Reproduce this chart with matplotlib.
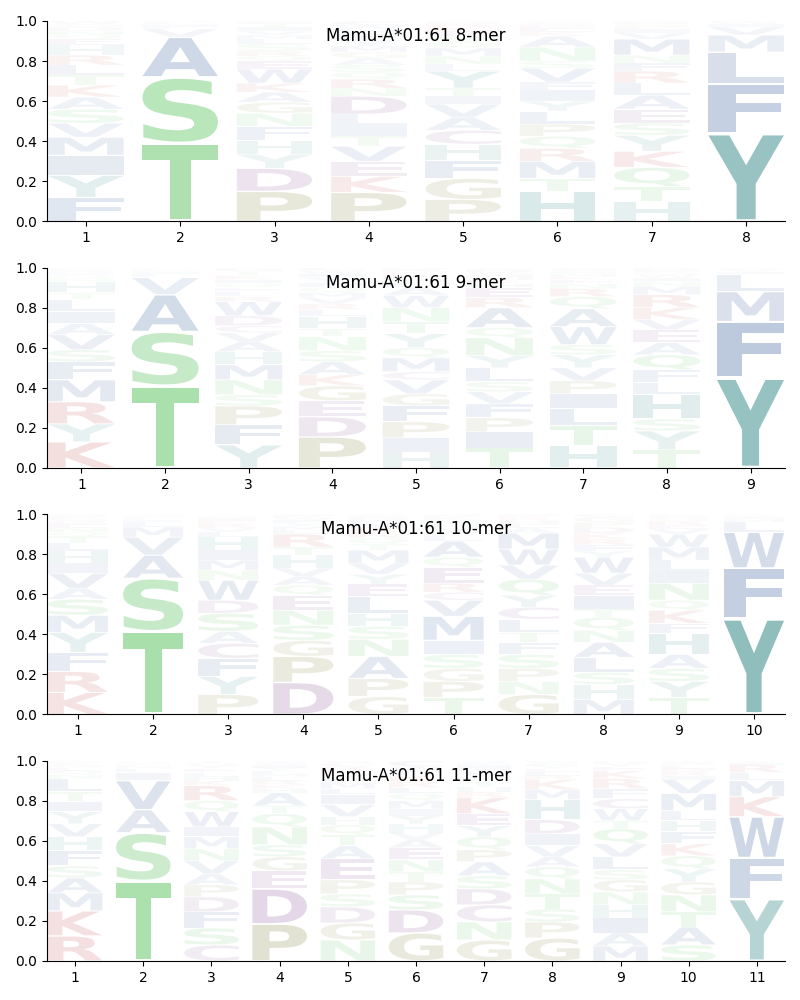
import matplotlib
matplotlib.use("Agg")
import matplotlib.pyplot as plt
from matplotlib.textpath import TextPath
from matplotlib.patches import PathPatch
from matplotlib.font_manager import FontProperties
from matplotlib.transforms import Affine2D

allele = "Mamu-A*01:61"

# letters of each column, listed bottom to top, with their frequencies
mer8_letters = [
    "FYIMVSAKTLRHEQNDGW",
    "TSAVLIMFCGN",
    "PDYHFNGAKWEQRSLMVITC",
    "PKEVTILDNRQSAGMYFHWC",
    "PGFHCAVITYLNMQSEKRDW",
    "HTMRQPLYIFVSNAKEDGCW",
    "HTQKYSEALRFNMVIPGDW",
    "YFLMVIWK",
]
mer8_heights = [
    [.12, .11, .10, .09, .07, .07, .06, .06, .05, .05, .05, .05, .03, .02, .02, .02, .015, .015],
    [.39, .33, .20, .04, .012, .008, .005, .004, .004, .004, .003],
    [.15, .115, .07, .07, .07, .065, .055, .05, .045, .07, .04, .025, .025, .035, .025, .02, .02, .02, .02, .01],
    [.145, .08, .075, .075, .05, .055, .055, .09, .04, .045, .035, .035, .035, .03, .03, .03, .03, .025, .02, .02],
    [.11, .105, .09, .08, .07, .065, .065, .04, .04, .085, .035, .04, .04, .03, .03, .025, .02, .015, .01, .005],
    [.15, .065, .085, .065, .06, .06, .065, .05, .055, .04, .07, .035, .07, .055, .02, .02, .015, .01, .005, .005],
    [.10, .075, .095, .08, .08, .06, .07, .07, .06, .06, .04, .04, .08, .03, .02, .015, .01, .01, .005],
    [.44, .245, .16, .085, .04, .015, .008, .007],
]

mer9_letters = [
    "KYRMFSVAILTHNQEDGPWC",
    "TSAVLIMFGCNQ",
    "YFPSNMHAVCDWRLEQIKTG",
    "PDEGKASNTHLRVMQFYIWC",
    "HIPFGVCMQYTNWALSEKRD",
    "TIPFVSLYNQAREHKMGDWC",
    "HTLIPVYSWAQRNEKMFGDC",
    "TYSHLFQAEVKRMNIWGPDC",
    "YFMLIVW",
]
mer9_heights = [
    [.13, .09, .11, .11, .09, .06, .075, .055, .06, .06, .035, .055, .015, .015, .01, .01, .008, .006, .004, .002],
    [.41, .27, .185, .085, .016, .01, .006, .005, .004, .004, .003, .002],
    [.115, .10, .095, .055, .075, .075, .065, .05, .045, .035, .05, .07, .025, .025, .02, .02, .02, .02, .02, .02],
    [.155, .10, .08, .075, .055, .065, .055, .07, .04, .06, .035, .03, .03, .025, .025, .025, .025, .02, .015, .015],
    [.08, .07, .08, .08, .06, .07, .04, .07, .05, .07, .06, .07, .06, .04, .025, .02, .02, .015, .01, .01],
    [.10, .08, .07, .07, .06, .05, .07, .06, .09, .05, .10, .05, .05, .02, .02, .02, .015, .015, .005, .005],
    [.11, .10, .085, .075, .065, .065, .065, .05, .09, .09, .06, .04, .025, .02, .015, .015, .01, .01, .005, .005],
    [.09, .095, .06, .12, .06, .065, .075, .06, .065, .05, .06, .065, .04, .025, .02, .015, .01, .01, .01, .005],
    [.45, .28, .15, .085, .015, .01, .01],
]

mer10_letters = [
    "KRFYMSAVIHLTQNEDGPWC",
    "TSAVMLIFGCNQ",
    "PYFCASDWNMIHLVRKEQGT",
    "DPGSNEQAVHTRLMYFWKIC",
    "GPANSHLEYVMTQRKIFDCW",
    "TPGSIMVCREQALFYHNKDW",
    "GNPSFTLCYQVWMAEHRKID",
    "MHSLANQTIEVWYFRKDPGC",
    "TYSAHFKQNILMWVERGDPC",
    "YFWLMIRKV",
]
mer10_heights = [
    [.11, .105, .095, .10, .085, .08, .055, .075, .05, .06, .04, .035, .02, .02, .02, .015, .015, .01, .005, .005],
    [.415, .265, .115, .09, .05, .025, .012, .008, .006, .005, .005, .004],
    [.10, .09, .09, .075, .06, .09, .065, .10, .05, .05, .05, .065, .025, .02, .02, .015, .015, .01, .005, .005],
    [.16, .13, .08, .075, .075, .075, .05, .045, .04, .065, .04, .065, .02, .02, .015, .015, .01, .01, .005, .005],
    [.09, .09, .11, .085, .065, .065, .085, .06, .05, .055, .065, .03, .03, .025, .025, .02, .02, .015, .01, .005],
    [.085, .08, .065, .07, .07, .12, .08, .04, .045, .08, .05, .08, .025, .02, .02, .02, .02, .015, .01, .005],
    [.10, .065, .065, .07, .06, .05, .065, .06, .06, .08, .07, .08, .08, .025, .02, .015, .015, .01, .005, .005],
    [.075, .075, .06, .075, .075, .06, .065, .04, .07, .05, .06, .08, .03, .03, .03, .03, .03, .025, .025, .015],
    [.085, .08, .065, .07, .105, .05, .065, .05, .085, .06, .055, .065, .065, .025, .02, .02, .015, .01, .005, .005],
    [.48, .25, .18, .05, .015, .01, .006, .005, .004],
]

mer11_letters = [
    "RKMASFHVYITLNQEDGPWC",
    "TSAVILMFGCNQ",
    "CSFDPAVNMIWQRKHLEYGT",
    "PDEGSNQTAHKRLMFYIWVC",
    "NGDSPEATQHVILMFYKRCW",
    "GDSPTNEAVHYIMQLRKFWC",
    "GNCDSAPQYEKRHTLVMIFW",
    "GPSTNQAVIDHMKRLEYFWC",
    "MAIHNGSLVQTWCFRKEYDP",
    "SATNGYQKFHLMVIRDEPWC",
    "YFWKMLRIV",
]
mer11_heights = [
    [.125, .125, .09, .075, .06, .075, .07, .065, .06, .05, .05, .065, .02, .02, .015, .01, .01, .008, .005, .002],
    [.40, .24, .115, .145, .04, .02, .012, .008, .006, .005, .005, .004],
    [.08, .085, .08, .075, .06, .055, .065, .06, .06, .05, .075, .055, .075, .025, .02, .02, .02, .015, .015, .01],
    [.185, .175, .09, .07, .06, .09, .065, .04, .065, .02, .02, .02, .02, .015, .015, .015, .015, .01, .005, .005],
    [.105, .085, .08, .065, .07, .105, .065, .055, .05, .04, .06, .05, .03, .03, .02, .02, .02, .02, .02, .01],
    [.14, .115, .075, .065, .05, .06, .06, .04, .035, .045, .04, .035, .04, .035, .03, .03, .03, .025, .02, .03],
    [.105, .09, .085, .08, .065, .07, .06, .065, .055, .06, .08, .03, .025, .025, .025, .025, .02, .015, .01, .01],
    [.115, .08, .065, .075, .075, .06, .05, .055, .06, .07, .10, .05, .05, .02, .02, .015, .015, .01, .01, .005],
    [.075, .065, .075, .065, .065, .06, .05, .065, .065, .075, .04, .06, .05, .05, .05, .04, .02, .015, .01, .005],
    [.08, .09, .075, .085, .065, .065, .065, .06, .06, .055, .05, .085, .07, .02, .02, .015, .015, .01, .01, .005],
    [.31, .205, .205, .10, .08, .04, .04, .01, .01],
]

panels = [
    ("8-mer", mer8_letters, mer8_heights),
    ("9-mer", mer9_letters, mer9_heights),
    ("10-mer", mer10_letters, mer10_heights),
    ("11-mer", mer11_letters, mer11_heights),
]

# colour per residue group
colors = {}
for aa in "AVLIMFW":
    colors[aa] = (0.0, 0.20, 0.51)
for aa in "YH":
    colors[aa] = (0.0, 0.42, 0.41)
for aa in "STNQ":
    colors[aa] = (0.11, 0.68, 0.13)
for aa in "PG":
    colors[aa] = (0.36, 0.36, 0.0)
for aa in "DEC":
    colors[aa] = (0.36, 0.05, 0.44)
for aa in "KR":
    colors[aa] = (0.67, 0.0, 0.0)

font = FontProperties(family="DejaVu Sans", weight="bold")
WIDTH = 0.8
VPAD = 0.05


def draw_letter(ax, letter, x, y0, h):
    path = TextPath((0, 0), letter, size=1, prop=font)
    ext = path.get_extents()
    gh = h * (1 - VPAD)
    tr = (Affine2D()
          .translate(-ext.x0, -ext.y0)
          .scale(WIDTH / ext.width, gh / ext.height)
          .translate(x - WIDTH / 2, y0 + h * VPAD / 2))
    alpha = min(1.0, 0.89 * h + 0.01)
    ax.add_patch(PathPatch(tr.transform_path(path), facecolor=colors[letter],
                           edgecolor="none", alpha=alpha))


fig, axes = plt.subplots(4, 1, figsize=(8, 10), dpi=100)
fig.subplots_adjust(left=0.059, right=0.981, top=0.979, bottom=0.039, hspace=0.23)

for ax, (name, letters, heights) in zip(axes, panels):
    n = len(letters)
    for i in range(n):
        col = heights[i]
        total = sum(col)
        y = 0.0
        for aa, h in zip(letters[i], col):
            h = h / total
            draw_letter(ax, aa, i + 1, y, h)
            y += h
    ax.set_xlim(0.59, n + 0.41)
    ax.set_ylim(0, 1)
    ax.set_xticks(range(1, n + 1))
    ax.set_yticks([0, 0.2, 0.4, 0.6, 0.8, 1.0])
    ax.spines["top"].set_visible(False)
    ax.spines["right"].set_visible(False)
    ax.text(0.5, 0.925, f"{allele} {name}", transform=ax.transAxes,
            ha="center", va="center", fontsize=12, zorder=5)

fig.savefig("out.png", dpi=100)
